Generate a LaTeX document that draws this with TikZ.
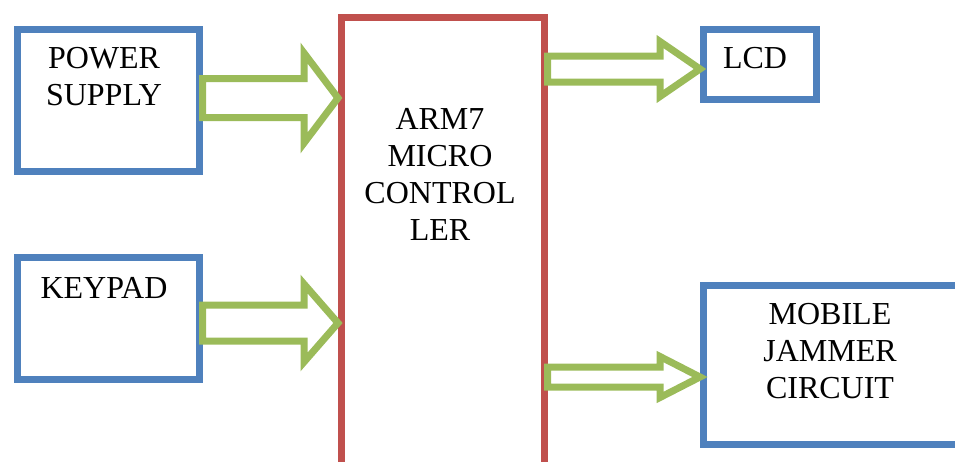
\documentclass[tikz,border=0pt]{standalone}
\usepackage{fontspec}
\setmainfont{Liberation Serif}
\usetikzlibrary{calc}
\definecolor{boxblue}{HTML}{4F81BD}
\definecolor{mcured}{HTML}{C0504D}
\definecolor{arrgreen}{HTML}{9BBB59}
\tikzset{
  blockbox/.style={draw=boxblue, line width=6.5pt, rectangle, inner sep=0pt, anchor=north west},
  mcubox/.style={draw=mcured, line width=6.5pt, rectangle, inner sep=0pt, anchor=north west},
  hollow/.style={draw=arrgreen, fill=white, line width=7pt, line join=miter, miter limit=10},
  lbl/.style={align=center, inner sep=0pt, anchor=base, font=\fontsize{32}{36.8}\selectfont}
}
% #1 start, #2 tip, #3 shaft half height, #4 head half height, #5 head length
\newcommand{\hollowarrow}[5]{%
  \draw[hollow] ($(#1)+(0,-#3)$) -- ($(#2)+(-#5,-#3)$) -- ($(#2)+(-#5,-#4)$) -- (#2)
    -- ($(#2)+(-#5,#4)$) -- ($(#2)+(-#5,#3)$) -- ($(#1)+(0,#3)$) -- cycle;}
\begin{document}
\begin{tikzpicture}[x=1pt,y=-1pt]
  \useasboundingbox (0,0) rectangle (955,461);
  % boxes
  \node[blockbox, minimum width=182pt, minimum height=142pt] (ps) at (14,26) {};
  \node[blockbox, minimum width=182pt, minimum height=122pt] (kp) at (14,254) {};
  \node[mcubox, minimum width=203pt, minimum height=480pt] (mcu) at (338,14) {};
  \node[blockbox, minimum width=113pt, minimum height=70pt] (lcd) at (700,26) {};
  \node[blockbox, minimum width=280pt, minimum height=159pt] (mob) at (700,282) {};
  % labels (anchor base = baseline of the last line)
  \node[lbl] (pst) at (104,105) {POWER\\SUPPLY};
  \node[lbl] (kpt) at (104,298) {KEYPAD};
  \node[lbl] (mcut) at (440,240) {ARM7\\MICRO\\CONTROL\\LER};
  \node[lbl] (lcdt) at (755,68) {LCD};
  \node[lbl] (mobt) at (830,398) {MOBILE\\JAMMER\\CIRCUIT};
  % arrow anchors
  \coordinate (a1s) at (ps.east |- 0,98);
  \coordinate (a1t) at (mcu.west |- 0,98);
  \coordinate (a2s) at (kp.east |- 0,323);
  \coordinate (a2t) at (mcu.west |- 0,323);
  \coordinate (a3s) at (mcu.east |- 0,69);
  \coordinate (a3t) at (lcd.west |- 0,69);
  \coordinate (a4s) at (mcu.east |- 0,377);
  \coordinate (a4t) at (mob.west |- 0,377);
  % hollow arrows
  \hollowarrow{a1s}{a1t}{19.5}{45}{34}
  \hollowarrow{a2s}{a2t}{18}{39}{34}
  \hollowarrow{a3s}{a3t}{13}{27.5}{40}
  \hollowarrow{a4s}{a4t}{10}{20.5}{40}
\end{tikzpicture}
\end{document}
